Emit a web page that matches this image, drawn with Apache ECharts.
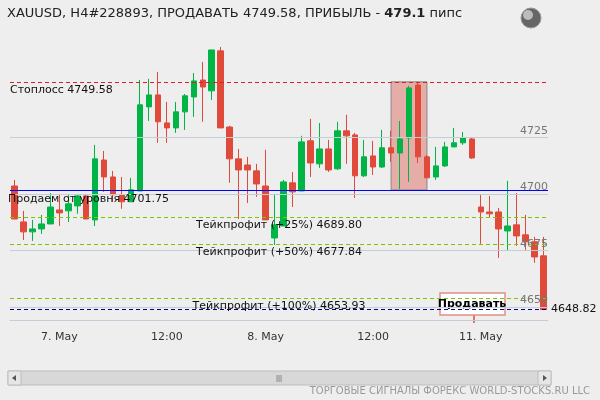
<!DOCTYPE html>
<html><head><meta charset="utf-8">
<script src="https://cdn.jsdelivr.net/npm/echarts@6/dist/echarts.min.js"></script>
<style>html,body{margin:0;padding:0;background:#eeeeee}#c{width:600px;height:400px}</style>
</head><body><div id="c"></div>
<script>
const opens = [4703.5,4687.6,4683.2,4684.5,4686.7,4692.9,4692.5,4694.7,4699.1,4688.5,4715.0,4707.5,4699.6,4696.5,4701.3,4738.5,4743.8,4731.4,4729.2,4736.3,4742.9,4750.4,4745.6,4763.3,4729.6,4715.5,4712.8,4710.2,4703.5,4680.5,4685.8,4704.9,4701.3,4723.5,4713.3,4719.9,4711.1,4727.9,4726.1,4708.0,4716.8,4711.9,4720.4,4718.1,4724.8,4748.2,4716.4,4707.5,4712.4,4720.8,4722.6,4724.3,4694.2,4692.0,4692.0,4683.6,4686.3,4681.9,4678.8,4672.6];
const closes = [4688.9,4683.2,4684.5,4686.7,4694.2,4691.6,4695.6,4699.1,4688.9,4715.5,4707.5,4699.6,4696.5,4701.8,4739.4,4743.8,4731.9,4729.2,4736.3,4743.4,4750.0,4747.3,4763.7,4729.2,4715.5,4710.6,4710.6,4704.4,4688.5,4686.3,4705.3,4700.9,4723.0,4713.7,4719.9,4710.6,4727.9,4725.7,4708.0,4716.4,4711.9,4720.4,4718.1,4724.3,4746.9,4716.4,4707.1,4712.4,4720.8,4722.6,4724.8,4715.9,4692.0,4691.2,4684.5,4685.8,4681.4,4678.8,4672.1,4648.82];
const lows = [4688.9,4679.6,4679.2,4682.3,4686.7,4685.8,4687.6,4691.2,4688.9,4685.8,4700.9,4696.5,4693.4,4696.5,4701.3,4732.3,4722.6,4722.6,4727.0,4728.3,4734.1,4731.9,4741.6,4729.2,4704.9,4688.9,4696.0,4698.7,4688.5,4677.4,4685.8,4694.2,4701.3,4707.5,4711.5,4709.7,4710.6,4713.3,4698.2,4707.5,4708.4,4711.5,4714.2,4702.2,4705.3,4713.7,4707.1,4706.2,4711.9,4720.8,4721.7,4715.5,4677.9,4689.8,4671.7,4674.8,4677.0,4675.2,4669.5,4648.82];
const highs = [4706.2,4692.5,4688.5,4690.7,4700.4,4700.0,4700.0,4700.0,4700.0,4721.7,4719.0,4710.2,4707.5,4707.1,4750.4,4750.9,4754.0,4740.7,4740.7,4744.2,4753.5,4758.4,4763.7,4765.0,4730.1,4719.9,4716.4,4713.3,4719.5,4700.0,4706.2,4709.7,4725.7,4733.2,4731.4,4723.9,4731.9,4735.0,4727.0,4723.9,4723.5,4728.3,4727.9,4732.3,4747.8,4749.6,4717.3,4720.8,4723.0,4729.2,4727.4,4724.8,4700.0,4699.1,4693.8,4705.8,4700.4,4690.7,4681.0,4681.0];
const tickIdx = [5, 17, 28, 40, 52];
const tickText = ['7. May', '12:00', '8. May', '12:00', '11. May'];
const gridLevels = [4650, 4675, 4700, 4725];
const stopLoss = 4749.58, entry = 4701.75, tp25 = 4689.80, tp50 = 4677.84, tp100 = 4653.93, lastPrice = 4648.82;
const zoneStart = 42, zoneEnd = 46;

const cats = opens.map((_, i) => { const k = tickIdx.indexOf(i); return k >= 0 ? tickText[k] : 'c' + i; });
const candles = opens.map((o, i) => [o, closes[i], lows[i], highs[i]]);
const lbl = (t, pos, extra) => Object.assign({show: true, formatter: t, position: pos, color: '#111', fontSize: 11, fontFamily: 'DejaVu Sans'}, extra || {});

const chart = echarts.init(document.getElementById('c'));
chart.setOption({
  backgroundColor: '#eeeeee',
  animation: false,
  grid: {left: 10, right: 52, top: 40, bottom: 80},
  xAxis: {type: 'category', data: cats, boundaryGap: true,
    axisLine: {lineStyle: {color: '#c4ccd6'}},
    axisTick: {alignWithLabel: true, length: 8, lineStyle: {color: '#c4ccd6'}, interval: (i) => tickIdx.includes(i)},
    axisLabel: {interval: (i) => tickIdx.includes(i), color: '#333', fontSize: 11, fontFamily: 'DejaVu Sans', margin: 12},
    splitLine: {show: false}},
  yAxis: {type: 'value', min: 4644.2, max: 4768.1, show: false, splitLine: {show: false}},
  series: [
    {type: 'line', data: [], z: 1, silent: true,
      markLine: {symbol: 'none', silent: true, animation: false, data: [
        ...gridLevels.map(v => ({yAxis: v, lineStyle: {color: '#c4ccd6', type: 'solid', width: 1},
          label: lbl(String(v), 'insideEndTop', {color: '#777', fontSize: 11, distance: [0, 1]})})),
        {yAxis: stopLoss, lineStyle: {color: '#e02020', type: [4, 3], width: 1}, label: lbl('Стоплосс 4749.58', 'insideStartBottom', {distance: [0, 3]})},
        {yAxis: entry, lineStyle: {color: '#0000ff', type: 'solid', width: 1}, label: lbl('Продаем от уровня 4701.75', 'insideStartBottom', {distance: [-2, 4]})},
        {yAxis: tp25, lineStyle: {color: '#77c800', type: [4, 3], width: 1}, label: lbl('Тейкпрофит (+25%) 4689.80', 'insideMiddleBottom', {distance: [-40, 3]})},
        {yAxis: tp50, lineStyle: {color: '#77c800', type: [4, 3], width: 1}, label: lbl('Тейкпрофит (+50%) 4677.84', 'insideMiddleBottom', {distance: [-40, 3]})},
        {yAxis: tp100, lineStyle: {color: '#77c800', type: [4, 3], width: 1}, label: lbl('Тейкпрофит (+100%) 4653.93', 'insideMiddleBottom', {distance: [-40, 3]})},
        {yAxis: lastPrice, lineStyle: {color: '#00008b', type: [4, 3], width: 1}, label: lbl('4648.82', 'end', {distance: 3})}
      ]}},
    {type: 'candlestick', data: candles, barWidth: 6, z: 3,
      itemStyle: {color: '#00b446', color0: '#e04a3a', borderColor: '#00b446', borderColor0: '#e04a3a', borderWidth: 1},
      markArea: {silent: true, itemStyle: {color: 'rgba(220,90,80,0.45)', borderColor: '#888', borderWidth: 1},
        data: [[{xAxis: zoneStart, yAxis: stopLoss}, {xAxis: zoneEnd, yAxis: entry}]]}}
  ],
  graphic: [
    {type: 'text', left: 7, top: 7, style: {text: '{a|XAUUSD, H4#228893, ПРОДАВАТЬ 4749.58, ПРИБЫЛЬ - }{b|479.1}{a| пипс}',
      rich: {a: {fontSize: 13, fill: '#222', fontFamily: 'DejaVu Sans'}, b: {fontSize: 13, fill: '#222', fontWeight: 'bold', fontFamily: 'DejaVu Sans'}}}},
    {type: 'circle', shape: {cx: 531, cy: 18, r: 10}, style: {fill: '#666', stroke: '#999', lineWidth: 1}},
    {type: 'circle', shape: {cx: 528, cy: 15, r: 5}, style: {fill: '#bbb'}},
    {type: 'line', shape: {x1: 474, y1: 314, x2: 474, y2: 323}, style: {stroke: '#e04a3a', lineWidth: 1.5}},
    {type: 'rect', shape: {x: 440, y: 293, width: 65, height: 22}, style: {fill: '#fff', stroke: '#e09088', lineWidth: 1.5}},
    {type: 'text', x: 472, y: 304, style: {text: 'Продавать', fontSize: 11, fontWeight: 'bold', fill: '#000', align: 'center', verticalAlign: 'middle', fontFamily: 'DejaVu Sans'}},
    {type: 'rect', shape: {x: 8, y: 371, width: 543, height: 14}, style: {fill: '#d8d8d8', stroke: '#bdbdbd'}},
    {type: 'rect', shape: {x: 8, y: 371, width: 13, height: 14}, style: {fill: '#e6e6e6', stroke: '#bdbdbd'}},
    {type: 'rect', shape: {x: 538, y: 371, width: 13, height: 14}, style: {fill: '#e6e6e6', stroke: '#bdbdbd'}},
    {type: 'polygon', shape: {points: [[12, 378], [16, 375], [16, 381]]}, style: {fill: '#555'}},
    {type: 'polygon', shape: {points: [[547, 378], [543, 375], [543, 381]]}, style: {fill: '#555'}},
    {type: 'text', x: 279, y: 378, style: {text: '|||', fontSize: 8, fill: '#666', align: 'center', verticalAlign: 'middle'}},
    {type: 'text', right: 10, top: 386, style: {text: 'ТОРГОВЫЕ СИГНАЛЫ ФОРЕКС WORLD-STOCKS.RU LLC', fontSize: 10, fill: '#999', fontFamily: 'DejaVu Sans'}}
  ]
});
</script></body></html>
